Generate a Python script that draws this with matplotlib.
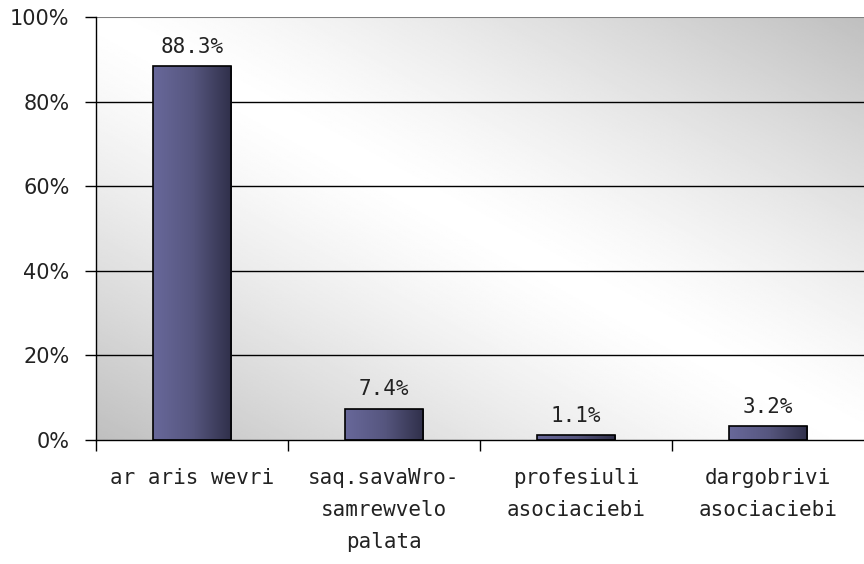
import numpy as np
import matplotlib.pyplot as plt
from matplotlib.ticker import FuncFormatter
from matplotlib.colors import LinearSegmentedColormap

# monacemebi
kategoriebi = ["ar aris wevri", "saq.savaWro-\nsamrewvelo\npalata",
               "profesiuli\nasociaciebi", "dargobrivi\nasociaciebi"]
procentebi = [88.3, 7.4, 1.1, 3.2]
iarliyebi = ["88.3%", "7.4%", "1.1%", "3.2%"]
y_ticks = [0, 20, 40, 60, 80, 100]

fig = plt.figure(figsize=(8.64, 5.64), dpi=100)
ax = fig.add_axes([96/864, 1 - 440/564, 1 - 96/864, 423/564])

# fonis gradienti (diagonaluri, Sua TeTri)
gx, gy = np.meshgrid(np.linspace(0, 1, 300), np.linspace(1, 0, 300))
t = np.clip(np.abs(gx + gy - 1.0), 0, 1)
fon = 1.0 - 0.25 * t**1.3
ax.imshow(fon, cmap="gray", vmin=0, vmax=1, extent=[0, 1, 0, 1],
          transform=ax.transAxes, aspect="auto", zorder=0,
          interpolation="bilinear")

x = np.arange(len(kategoriebi))
svetebi = ax.bar(x, procentebi, width=0.41, color="none",
                 edgecolor="black", linewidth=1.2, zorder=3)

# svetebis gradienti
grad = np.linspace(0, 1, 100).reshape(1, -1)
cm = LinearSegmentedColormap.from_list("sv", ["#68689a", "#56567f", "#30304a"])
for s in svetebi:
    x0, y0 = s.get_x(), s.get_y()
    w, h = s.get_width(), s.get_height()
    im = ax.imshow(grad, cmap=cm, extent=[x0, x0 + w, y0, y0 + h],
                   aspect="auto", zorder=2, interpolation="bilinear")
    im.set_clip_path(s)

for xi, v, lab in zip(x, procentebi, iarliyebi):
    ax.annotate(lab, (xi, v), xytext=(0, 7), textcoords="offset points",
                ha="center", va="bottom", fontsize=15,
                family="DejaVu Sans Mono", color="#222222")

ax.set_xlim(-0.5, len(kategoriebi) - 0.5)
ax.set_ylim(0, 100)
ax.set_yticks(y_ticks)
ax.yaxis.set_major_formatter(FuncFormatter(lambda v, p: f"{v:.0f}%"))
ax.tick_params(axis="y", length=8, width=1, labelsize=15, pad=11,
               labelcolor="#222222")
for g in y_ticks[1:-1]:
    ax.axhline(g, color="black", linewidth=1, zorder=1)
ax.axhline(100, color="#808080", linewidth=1.5, zorder=1)

ax.set_xticks(x)
ax.set_xticklabels(kategoriebi, family="DejaVu Sans Mono", fontsize=15,
                   linespacing=1.75, color="#222222")
ax.set_xticks(np.arange(len(kategoriebi)) - 0.5, minor=True)
ax.tick_params(axis="x", which="major", length=0, pad=20)
ax.tick_params(axis="x", which="minor", length=8, width=1)

for sp in ["top", "right"]:
    ax.spines[sp].set_visible(False)
ax.spines["left"].set_linewidth(1)
ax.spines["bottom"].set_linewidth(1)

fig.savefig("out.png", dpi=100)
